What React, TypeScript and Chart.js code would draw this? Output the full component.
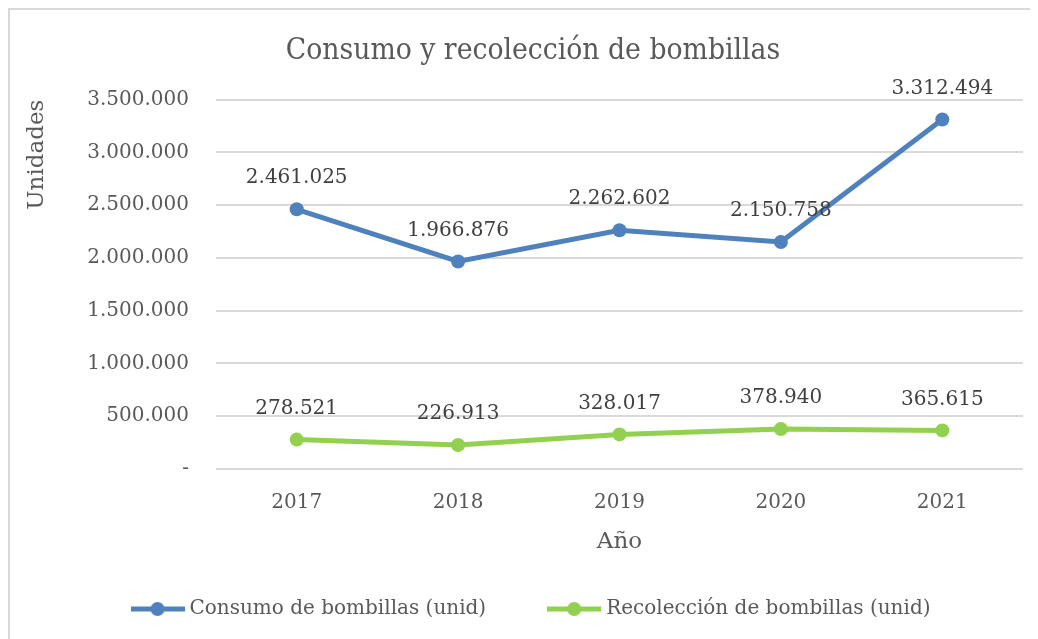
import React, { useEffect, useRef } from "react";
import { Chart, registerables } from "chart.js";

Chart.register(...registerables);

const years = ["2017", "2018", "2019", "2020", "2021"];
const consumo = [2461025, 1966876, 2262602, 2150758, 3312494];
const recoleccion = [278521, 226913, 328017, 378940, 365615];
const seriesNames = ["Consumo de bombillas (unid)", "Recolección de bombillas (unid)"];
const seriesColors = ["#4F81BD", "#92D050"];

const FONT = "'DejaVu Serif', Cambria, serif";

function fmt(n: number): string {
  if (n === 0) return "-";
  return Math.round(n).toString().replace(/\B(?=(\d{3})+(?!\d))/g, ".");
}

function legendImage(color: string): HTMLCanvasElement {
  const c = document.createElement("canvas");
  c.width = 54;
  c.height = 16;
  const ctx = c.getContext("2d")!;
  ctx.strokeStyle = color;
  ctx.lineWidth = 5;
  ctx.beginPath();
  ctx.moveTo(0, 8);
  ctx.lineTo(54, 8);
  ctx.stroke();
  ctx.fillStyle = color;
  ctx.beginPath();
  ctx.arc(27, 8, 7, 0, Math.PI * 2);
  ctx.fill();
  return c;
}

const dataLabels = {
  id: "dataLabels",
  afterDatasetsDraw(chart: any) {
    const ctx = chart.ctx;
    ctx.save();
    ctx.font = `20px ${FONT}`;
    ctx.fillStyle = "#404040";
    ctx.textAlign = "center";
    ctx.textBaseline = "middle";
    chart.data.datasets.forEach((ds: any, i: number) => {
      const meta = chart.getDatasetMeta(i);
      meta.data.forEach((pt: any, j: number) => {
        ctx.fillText(fmt(ds.data[j]), pt.x, pt.y - 31);
      });
    });
    ctx.restore();
  },
};

export default function App() {
  const ref = useRef<HTMLCanvasElement>(null);
  useEffect(() => {
    document.body.style.overflow = "hidden";
    const imgs = seriesColors.map(legendImage);
    const chart = new Chart(ref.current!, {
      type: "line",
      data: {
        labels: years,
        datasets: [
          {
            label: seriesNames[0],
            data: consumo,
            borderColor: seriesColors[0],
            backgroundColor: seriesColors[0],
            borderWidth: 5,
            pointRadius: 7,
            pointHoverRadius: 7,
            pointBorderWidth: 0,
            tension: 0,
            yAxisID: "y",
          },
          {
            label: seriesNames[1],
            data: recoleccion,
            borderColor: seriesColors[1],
            backgroundColor: seriesColors[1],
            borderWidth: 5,
            pointRadius: 7,
            pointHoverRadius: 7,
            pointBorderWidth: 0,
            tension: 0,
            yAxisID: "y",
          },
        ],
      },
      options: {
        animation: false,
        responsive: false,
        maintainAspectRatio: false,
        layout: { padding: { top: 0, right: 0, bottom: 10, left: 0 } },
        plugins: {
          title: {
            display: true,
            text: "Consumo y recolección de bombillas",
            color: "#595959",
            font: { family: "'DejaVu Serif Condensed', 'DejaVu Serif', serif", size: 29.7, weight: "normal" },
            padding: { top: 23, bottom: 31 },
          },
          legend: {
            position: "bottom",
            labels: {
              usePointStyle: true,
              pointStyleWidth: 44,
              padding: 66,
              color: "#595959",
              font: { family: FONT, size: 20 },
              generateLabels: (ch: any) =>
                ch.data.datasets.map((ds: any, i: number) => ({
                  text: ds.label,
                  fillStyle: seriesColors[i],
                  strokeStyle: seriesColors[i],
                  lineWidth: 0,
                  pointStyle: imgs[i],
                  fontColor: "#595959",
                  datasetIndex: i,
                  hidden: false,
                })),
            },
          },
          tooltip: { enabled: false },
        },
        scales: {
          x: {
            offset: true,
            grid: { display: false, drawTicks: false, offset: true },
            border: { display: false },
            ticks: { color: "#595959", font: { family: FONT, size: 20 }, padding: 22 },
            title: {
              display: true,
              text: "Año",
              color: "#595959",
              font: { family: FONT, size: 23 },
              padding: { top: 0, bottom: -22.5 },
            },
            afterFit: (s: any) => {
              s.height = 64;
            },
          },
          y: {
            position: "left",
            min: 0,
            max: 3500000,
            ticks: {
              stepSize: 500000,
              color: "#595959",
              font: { family: FONT, size: 20 },
              padding: 27,
              callback: (v: any) => fmt(Number(v)),
            },
            grid: { color: "#D9D9D9", lineWidth: 2, drawTicks: false },
            border: { display: false },
            title: {
              display: true,
              text: "Unidades",
              align: "end",
              color: "#595959",
              font: { family: FONT, size: 23 },
              padding: { top: 13, bottom: 0 },
            },
            afterFit: (s: any) => {
              s.width = 206;
            },
          },
          spacer: {
            type: "linear",
            position: "right",
            display: true,
            min: 0,
            max: 1,
            grid: { display: false, drawTicks: false },
            border: { display: false },
            ticks: { display: false },
            afterFit: (s: any) => {
              s.width = 33;
            },
          },
        },
      },
      plugins: [dataLabels],
    });
    return () => chart.destroy();
  }, []);
  return (
    <div
      style={{
        width: 1046,
        height: 629,
        borderTop: "2px solid #D9D9D9",
        borderLeft: "2px solid #D9D9D9",
        background: "#fff",
      }}
    >
      <canvas ref={ref} width={1046} height={629} style={{ display: "block" }} />
    </div>
  );
}
